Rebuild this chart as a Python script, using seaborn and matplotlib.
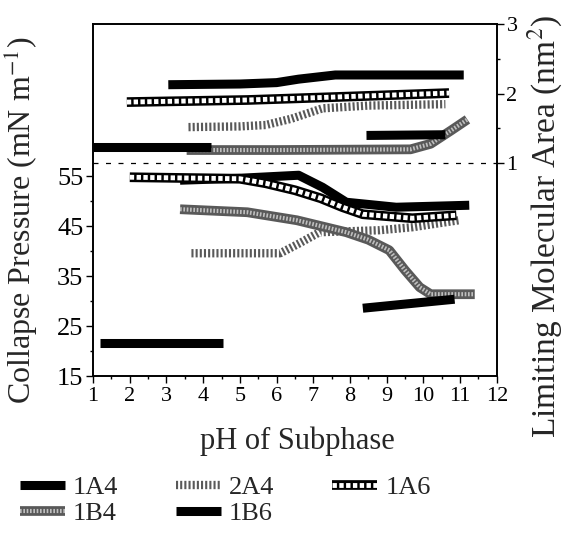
import numpy as np
import pandas as pd
import matplotlib
matplotlib.use("Agg")
import matplotlib.pyplot as plt
from matplotlib.lines import Line2D
from matplotlib.ticker import FixedLocator, MultipleLocator
import seaborn as sns

# ---- data ----
# limiting molecular area (nm^2), right axis
area_1A4_ph = [3.05, 5.0, 6.0, 6.6, 7.6, 9.0, 11.1]
area_1A4 = [2.13, 2.14, 2.16, 2.21, 2.27, 2.27, 2.27]
area_2A4_ph = [3.6, 5.0, 5.7, 6.4, 7.25, 8.5, 10.6]
area_2A4 = [1.52, 1.53, 1.55, 1.64, 1.79, 1.83, 1.85]
area_1A6_ph = [1.92, 5.2, 7.45, 10.7]
area_1A6 = [1.88, 1.91, 1.95, 2.01]
area_1B4_ph = [3.55, 6.0, 9.65, 10.2, 10.75, 11.2]
area_1B4 = [1.19, 1.19, 1.20, 1.28, 1.47, 1.63]
area_1B6_ph = [1.0, 4.2, 8.45, 10.6]
area_1B6 = [1.23, 1.23, 1.40, 1.41]
area_1B6_seg = [0, 0, 1, 1]

# collapse pressure (mN/m), left axis
press_1A4_ph = [3.37, 5.0, 6.6, 7.25, 7.9, 9.26, 11.25]
press_1A4 = [54.2, 54.6, 55.2, 52.8, 49.8, 48.8, 49.2]
press_2A4_ph = [3.68, 6.1, 6.6, 7.17, 8.8, 9.7, 10.97]
press_2A4 = [39.6, 39.6, 41.5, 43.8, 44.2, 44.8, 46.2]
press_1A6_ph = [2.0, 5.0, 5.7, 6.5, 7.2, 7.8, 8.35, 9.7, 10.9]
press_1A6 = [54.8, 54.5, 53.6, 52.2, 50.6, 48.8, 47.4, 46.6, 47.2]
press_1B4_ph = [3.37, 5.2, 6.55, 7.9, 8.5, 9.07, 9.5, 9.9, 10.2, 11.4]
press_1B4 = [48.4, 47.8, 46.2, 43.8, 42.3, 40.2, 36.2, 32.8, 31.4, 31.4]
press_1B6_ph = [1.2, 4.55, 8.35, 10.85]
press_1B6 = [21.6, 21.6, 28.6, 30.4]
press_1B6_seg = [0, 0, 1, 1]

labels = ["1A4", "2A4", "1A6", "1B4", "1B6"]

sns.set_theme(style="ticks")
plt.rcParams["font.family"] = ["Liberation Serif", "DejaVu Serif"]
plt.rcParams["mathtext.fontset"] = "stix"
plt.rcParams["xtick.direction"] = "out"
plt.rcParams["ytick.direction"] = "out"

# line looks: list of layers drawn one on top of another
styles = {
    "1A4": [dict(color="black", lw=6.5)],
    "1B6": [dict(color="black", lw=6.5)],
    "2A4": [dict(color="0.35", lw=6.0, linestyle=(0, (0.25, 0.25)))],
    "1A6": [dict(color="black", lw=7.0), dict(color="white", lw=3.5, linestyle=(0, (0.9, 0.5)))],
    "1B4": [dict(color="0.35", lw=7.0), dict(color="0.75", lw=3.0, linestyle=(0, (0.4, 0.4)))],
}


def draw(ax, ph, val, name, seg=None):
    if seg is None:
        seg = [0] * len(ph)
    df = pd.DataFrame({"pH": ph, "v": val, "seg": seg})
    for st in styles[name]:
        sns.lineplot(data=df, x="pH", y="v", units="seg", estimator=None, sort=False,
                     ax=ax, legend=False, solid_capstyle="butt", dash_capstyle="butt", **st)


fig = plt.figure(figsize=(5.71, 5.39), dpi=100)
ax = fig.add_axes([0.163, 0.302, 0.707, 0.653])
ax2 = ax.twinx()

draw(ax, press_1A4_ph, press_1A4, "1A4")
draw(ax, press_2A4_ph, press_2A4, "2A4")
draw(ax, press_1A6_ph, press_1A6, "1A6")
draw(ax, press_1B4_ph, press_1B4, "1B4")
draw(ax, press_1B6_ph, press_1B6, "1B6", press_1B6_seg)

draw(ax2, area_1A4_ph, area_1A4, "1A4")
draw(ax2, area_2A4_ph, area_2A4, "2A4")
draw(ax2, area_1A6_ph, area_1A6, "1A6")
draw(ax2, area_1B4_ph, area_1B4, "1B4")
draw(ax2, area_1B6_ph, area_1B6, "1B6", area_1B6_seg)

ax2.axhline(1, color="black", lw=0.9, linestyle=(0, (4, 6)))

ax.set_xlim(1, 12)
ax.set_ylim(15, 85.4)
ax2.set_ylim(-2.065, 3)

ax.xaxis.set_major_locator(FixedLocator(range(1, 13)))
ax.xaxis.set_minor_locator(MultipleLocator(0.5))
ax.yaxis.set_major_locator(FixedLocator([15, 25, 35, 45, 55]))
ax.yaxis.set_minor_locator(FixedLocator([20, 30, 40, 50]))
ax2.yaxis.set_major_locator(FixedLocator([1, 2, 3]))
ax2.yaxis.set_minor_locator(FixedLocator([1.5, 2.5]))

for a in (ax, ax2):
    a.tick_params(which="major", length=5, width=1, color="black", labelcolor="black", pad=2)
    a.tick_params(which="minor", length=2.5, width=1, color="black")
    for s in a.spines.values():
        s.set_color("black")
        s.set_linewidth(1.2)
ax.tick_params(axis="x", labelsize=16, pad=3)
ax.tick_params(axis="y", labelsize=19)
ax2.tick_params(axis="y", labelsize=16)

ax.set_xlabel("pH of Subphase", fontsize=22)
ax.xaxis.set_label_coords(0.505, -0.142)
ax.set_ylabel("Collapse Pressure (mN m$^{-1}$)", fontsize=23)
ax.yaxis.set_label_coords(-0.131, 0.443)
ax2.set_ylabel("Limiting Molecular Area (nm$^{2}$)", fontsize=24)
ax2.yaxis.set_label_coords(1.072, 0.426)

# legend with layered handles
handles = {}
for name in labels:
    layers = []
    for st in styles[name]:
        layers.append(Line2D([], [], solid_capstyle="butt", dash_capstyle="butt", **st))
    handles[name] = tuple(layers)

order = ["1A4", "1B4", "2A4", "1B6", "1A6"]
fig.legend([handles[n] for n in order], order, ncol=3, loc="upper left",
           bbox_to_anchor=(0.035, 0.118), frameon=False, fontsize=19,
           handlelength=1.7, handletextpad=0.3, columnspacing=2.2,
           labelspacing=0.1, borderpad=0, borderaxespad=0)

fig.savefig("out.png", dpi=100)
